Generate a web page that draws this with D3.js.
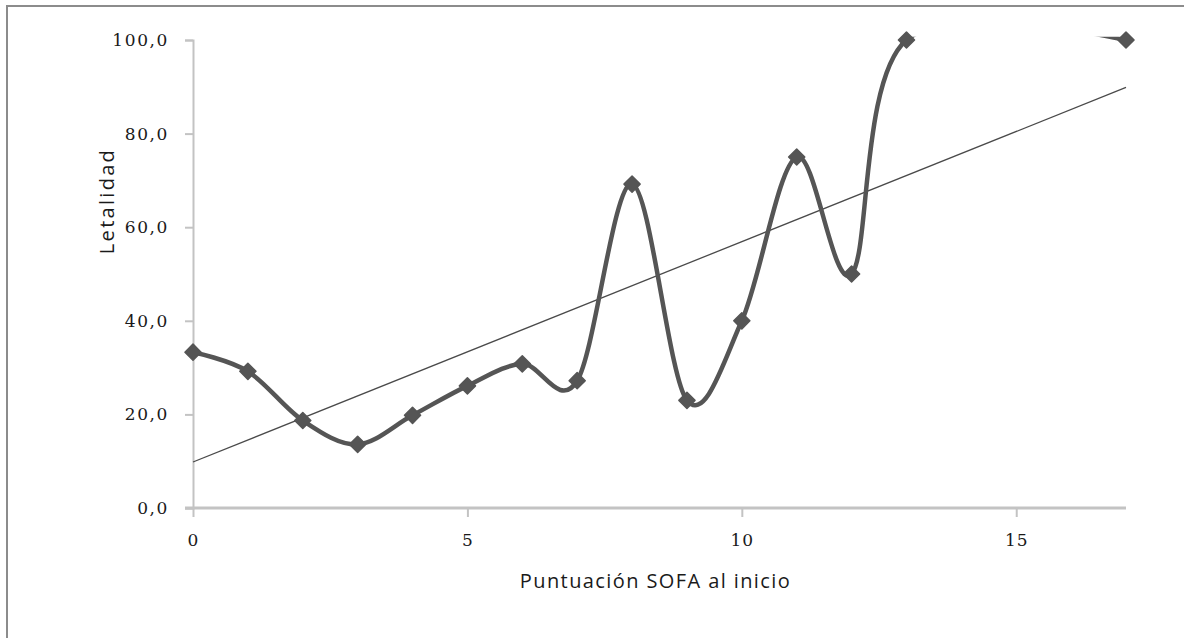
<!DOCTYPE html>
<html>
<head>
<meta charset="utf-8">
<script src="https://cdn.jsdelivr.net/npm/d3@7"></script>
<style>
  html, body { margin: 0; padding: 0; background: #fff; }
  svg { display: block; }
</style>
</head>
<body>
<svg id="chart" width="1184" height="638"></svg>
<script>
// SOFA score at admission vs. lethality (%)
const sofaScores = [0, 1, 2, 3, 4, 5, 6, 7, 8, 9, 10, 11, 12, 13, 17];
const lethality  = [33.3, 29.2, 18.7, 13.6, 19.8, 26.1, 30.8, 27.2, 69.2, 23.0, 40.0, 75.0, 50.0, 100.0, 100.0];
const xTicks = [0, 5, 10, 15];
const yTicks = [0, 20, 40, 60, 80, 100];
const xTitle = "Puntuación SOFA al inicio";
const yTitle = "Letalidad";

const points = sofaScores.map((s, i) => ({ x: s, y: lethality[i] }));

const svg = d3.select("#chart");
const margin = { left: 193, right: 58, top: 40, bottom: 130 };
const W = 1184, H = 638;

const x = d3.scaleLinear().domain([0, 17]).range([margin.left, W - margin.right]);
const y = d3.scaleLinear().domain([0, 100]).range([H - margin.bottom, margin.top]);

const axisColor = "#c3c3c3";
const markColor = "#555555";
const tickFont = "'DejaVu Serif', serif";
const titleFont = "'Open Sans', sans-serif";

// outer frame
svg.append("rect")
  .attr("x", 7).attr("y", 6)
  .attr("width", W + 20).attr("height", H + 20)
  .attr("fill", "none").attr("stroke", "#8c8c8c").attr("stroke-width", 2);

// plot-area clip: the smoothed series is cut just above the top of the value range
const clipPad = 3.2;
svg.append("defs").append("clipPath").attr("id", "plotClip")
  .append("rect")
  .attr("x", x(0)).attr("y", y(100) - clipPad)
  .attr("width", x(17) - x(0)).attr("height", y(0) - y(100) + clipPad);

// y axis
const yAxis = svg.append("g").attr("transform", `translate(${x(0)},0)`)
  .call(d3.axisLeft(y).tickValues(yTicks).tickSize(8).tickPadding(16)
    .tickFormat(d => d3.format(".1f")(d).replace(".", ",")));
yAxis.select(".domain").attr("stroke", axisColor).attr("stroke-width", 2);
yAxis.selectAll(".tick line").attr("stroke", axisColor).attr("stroke-width", 2);
yAxis.selectAll(".tick text")
  .attr("font-family", tickFont).attr("font-size", 17).attr("letter-spacing", 1.6)
  .attr("fill", "#1a1a1a");

// x axis
const xAxis = svg.append("g").attr("transform", `translate(0,${y(0)})`)
  .call(d3.axisBottom(x).tickValues(xTicks).tickSize(9).tickPadding(17).tickSizeOuter(0));
xAxis.select(".domain").attr("stroke", axisColor).attr("stroke-width", 3)
  .attr("d", `M${x(0) - 8},0H${x(17)}`);
xAxis.selectAll(".tick line").attr("stroke", axisColor).attr("stroke-width", 2);
xAxis.selectAll(".tick text")
  .attr("font-family", tickFont).attr("font-size", 17).attr("letter-spacing", 1)
  .attr("fill", "#1a1a1a");

// axis titles
svg.append("text")
  .attr("x", (x(0) + x(17)) / 2 - 4).attr("y", 588)
  .attr("text-anchor", "middle")
  .attr("font-family", titleFont).attr("font-size", 20).attr("letter-spacing", 1.4)
  .attr("fill", "#1a1a1a").text(xTitle);

svg.append("text")
  .attr("transform", `translate(114,201) rotate(-90)`)
  .attr("text-anchor", "middle")
  .attr("font-family", titleFont).attr("font-size", 20).attr("letter-spacing", 2.3)
  .attr("fill", "#1a1a1a").text(yTitle);

// linear trend line (least squares over all points)
const mx = d3.mean(points, d => d.x), my = d3.mean(points, d => d.y);
const slope = d3.sum(points, d => (d.x - mx) * (d.y - my)) / d3.sum(points, d => (d.x - mx) ** 2);
const intercept = my - slope * mx;
svg.append("line")
  .attr("x1", x(0)).attr("y1", y(intercept))
  .attr("x2", x(17)).attr("y2", y(intercept + slope * 17))
  .attr("stroke", "#4a4a4a").attr("stroke-width", 1.3);

// smoothed series line, clipped to the plot area
const smooth = d3.line().x(d => x(d.x)).y(d => y(d.y)).curve(d3.curveCatmullRom.alpha(0));
svg.append("path")
  .datum(points)
  .attr("clip-path", "url(#plotClip)")
  .attr("d", smooth)
  .attr("fill", "none").attr("stroke", markColor).attr("stroke-width", 4.5)
  .attr("stroke-linejoin", "round");

// diamond markers
svg.append("g").selectAll("path.marker")
  .data(points).join("path")
  .attr("class", "marker")
  .attr("transform", d => `translate(${x(d.x)},${y(d.y)}) rotate(45)`)
  .attr("d", d3.symbol().type(d3.symbolSquare).size(130))
  .attr("fill", markColor)
  .attr("stroke", markColor).attr("stroke-width", 1.5).attr("stroke-linejoin", "round");
</script>
</body>
</html>
